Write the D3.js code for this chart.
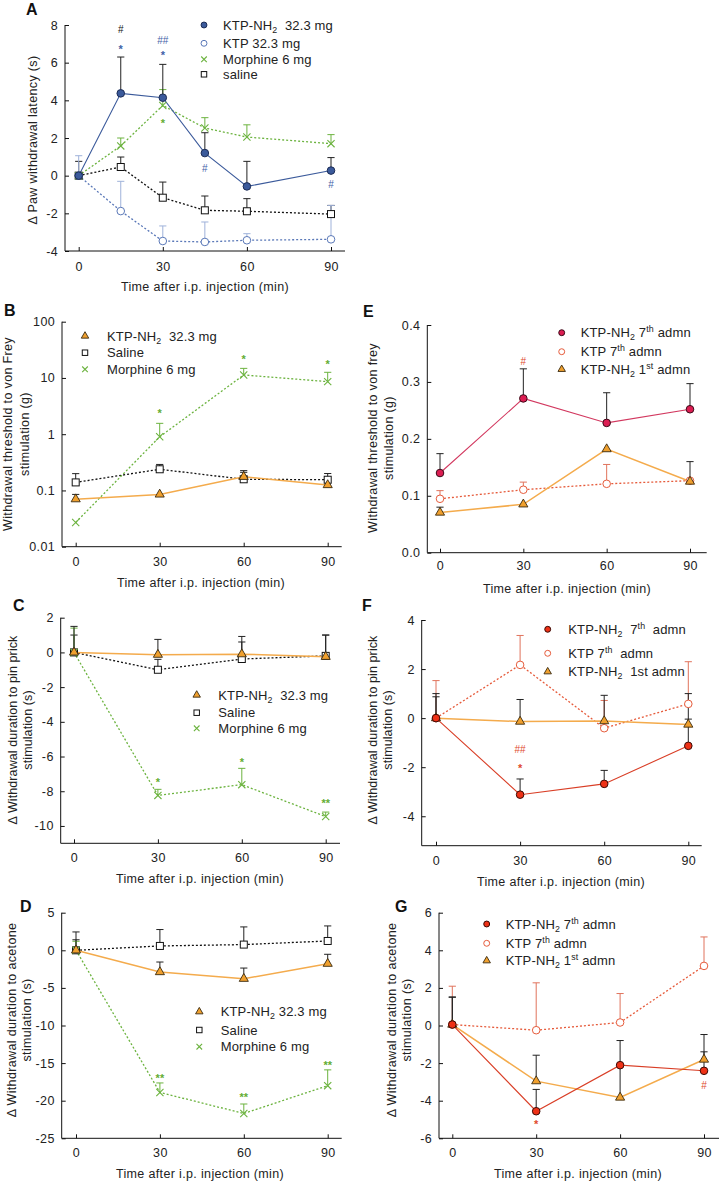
<!DOCTYPE html>
<html><head><meta charset="utf-8">
<script src="https://cdn.jsdelivr.net/npm/d3@7"></script>
<style>
body{margin:0;background:#fff}
svg{display:block}
text{font-family:Arial,Helvetica,sans-serif;fill:#222}
.pre{white-space:pre}
</style>
</head><body>
<svg id="c" width="719" height="1181"></svg>
<script>
// ---------------- DATA ----------------
const timesA = [0, 15, 30, 45, 60, 90];
const times = [0, 30, 60, 90];
const xTicks = [0, 30, 60, 90];

// Panel A: Δ paw withdrawal latency (s); "Up" = top of error bar
const aKtpNh2 = [0, 4.37, 4.14, 1.2, -0.57, 0.27];
const aKtpNh2Up = [null, 6.3, 5.91, 2.28, 0.76, 0.96];
const aKtp = [0, -1.88, -3.47, -3.52, -3.43, -3.38];
const aKtpUp = [1.06, -0.3, -2.67, -2.46, -3.08, -1.58];
const aMorph = [0, 1.58, 3.73, 2.53, 2.05, 1.7];
const aMorphUp = [null, 2.0, 4.57, 3.08, 2.7, 2.18];
const aSaline = [0, 0.46, -1.17, -1.84, -1.89, -2.04];
const aSalineUp = [0.76, 0.99, -0.34, -1.08, -1.22, -1.58];
const aTicks = [-4, -2, 0, 2, 4, 6, 8];
const aMarks = [[15, 7.77, "#", "k"], [15, 6.81, "*", "b"], [30, 7.19, "##", "b"], [30, 6.5, "*", "b"],
                [30, 2.9, "*", "g"], [45, 0.39, "#", "b"], [90, -0.46, "#", "b"]];

// Panel B: withdrawal threshold to von Frey (g), log scale
const bKtpNh2 = [0.070, 0.085, 0.175, 0.125];
const bKtpNh2Up = [0.085, null, 0.225, null];
const bSaline = [0.139, 0.238, 0.158, 0.155];
const bSalineUp = [0.199, 0.29, 0.21, 0.2];
const bMorph = [0.027, 0.90, 11.3, 8.6];
const bMorphUp = [null, 1.56, 14.8, 12.6];
const bTicks = [0.01, 0.1, 1, 10, 100];
const bMarks = [[30, 2.6, "*", "g"], [60, 23.9, "*", "g"], [90, 19.2, "*", "g"]];

// Panel C: Δ withdrawal duration to pin prick (s)
const cKtpNh2 = [0, -0.13, -0.1, -0.25];
const cKtpNh2Up = [1.5, 0.75, 0.92, 1.0];
const cSaline = [0, -1.0, -0.38, -0.2];
const cSalineUp = [1.0, -0.4, 0.6, 1.0];
const cMorph = [0, -8.24, -7.62, -9.46];
const cMorphUp = [1.4, -7.89, -6.68, -9.2];
const cTicks = [-10, -8, -6, -4, -2, 0, 2];
const cMarks = [[30, -7.33, "*", "g"], [60, -6.18, "*", "g"], [90, -8.58, "**", "g"]];

// Panel D: Δ withdrawal duration to acetone (s)
const dKtpNh2 = [0, -2.89, -3.78, -1.78];
const dKtpNh2Up = [1.4, -1.56, -2.36, -0.53];
const dSaline = [0, 0.58, 0.76, 1.24];
const dSalineUp = [2.44, 2.76, 3.11, 3.24];
const dMorph = [0, -18.9, -21.7, -18.0];
const dMorphUp = [1.2, -17.64, -20.44, -15.9];
const dTicks = [-25, -20, -15, -10, -5, 0, 5];
const dMarks = [[30, -16.7, "**", "g"], [60, -19.3, "**", "g"], [90, -15.0, "**", "g"]];

// Panel E: withdrawal threshold to von frey (g)
const eNh2_7 = [0.14, 0.271, 0.228, 0.252];
const eNh2_7Up = [0.174, 0.323, 0.281, 0.297];
const eKtp7 = [0.0947, 0.1106, 0.121, 0.1265];
const eKtp7Up = [0.109, 0.124, 0.155, null];
const eNh2_1 = [0.0706, 0.085, 0.182, 0.125];
const eNh2_1Up = [0.08, null, null, 0.16];
const eTicks = [0, 0.1, 0.2, 0.3, 0.4];
const eMarks = [[30, 0.337, "#", "r"]];

// Panel F: Δ withdrawal duration to pin prick (s)
const fNh2_7 = [0, -3.12, -2.68, -1.13];
const fNh2_7Up = [1.0, -2.48, -2.13, -0.04];
const fKtp7 = [0, 2.17, -0.41, 0.58];
const fKtp7Up = [1.53, 3.37, 0.72, 2.3];
const fNh2_1 = [0, -0.14, -0.12, -0.26];
const fNh2_1Up = [0.87, 0.76, 0.93, 1.0];
const fTicks = [-4, -2, 0, 2, 4];
const fMarks = [[30, -1.29, "##", "r"], [30, -1.97, "*", "r"]];

// Panel G: Δ withdrawal duration to acetone (s)
const gNh2_7 = [0.05, -4.56, -2.11, -2.41];
const gNh2_7Up = [1.52, -3.4, null, -1.4];
const gKtp7 = [0.05, -0.25, 0.16, 3.17];
const gKtp7Up = [2.09, 2.27, 1.7, 4.71];
const gNh2_1 = [0.05, -2.96, -3.83, -1.81];
const gNh2_1Up = [1.5, -1.58, -0.8, -0.48];
const gTicks = [-6, -4, -2, 0, 2, 4, 6];
const gMarks = [[30, -5.13, "*", "r"], [90, -3.18, "#", "r"]];

// Legend labels: segments [text, kind]
const legA = [[["KTP-NH"], ["2", "sub"], ["  32.3 mg"]], [["KTP 32.3 mg"]], [["Morphine 6 mg"]], [["saline"]]];
const legBC = [[["KTP-NH"], ["2", "sub"], ["  32.3 mg"]], [["Saline"]], [["Morphine 6 mg"]]];
const legD = [[["KTP-NH"], ["2", "sub"], [" 32.3 mg"]], [["Saline"]], [["Morphine 6 mg"]]];
const legEG = [[["KTP-NH"], ["2", "sub"], [" 7"], ["th", "sup"], [" admn"]],
               [["KTP 7"], ["th", "sup"], [" admn"]],
               [["KTP-NH"], ["2", "sub"], [" 1"], ["st", "sup"], [" admn"]]];
const legF = [[["KTP-NH"], ["2", "sub"], ["  7"], ["th", "sup"], ["  admn"]],
              [["KTP 7"], ["th", "sup"], ["  admn"]],
              [["KTP-NH"], ["2", "sub"], ["  1st admn"]]];

const xTitle = "Time after i.p. injection (min)";

// ---------------- STYLES ----------------
const COL = {
  navy: "#3b5a9b", navyEdge: "#1c2c55", lblue: "#5a78b8", lblueErr: "#9fb2da",
  green: "#6cb33f", orange: "#f0a02e", orangeLine: "#f4ab4c",
  crimson: "#dc1d52", crimsonLine: "#d2385f",
  red: "#ee3116", redLine: "#d93e26", redOpen: "#e65b3b", redErr: "#e0735c",
  black: "#111", k: "#111", b: "#3f62a8", g: "#63ad32", r: "#e04a2c"
};
const S = {
  nh2A: {m: "fcircle", fill: COL.navy, stroke: COL.navyEdge, line: COL.navy, dash: null, err: "#222"},
  ktpA: {m: "ocircle", fill: "#fff", stroke: COL.lblue, line: COL.lblue, dash: "2,2", err: COL.lblueErr},
  morph: {m: "x", fill: "none", stroke: COL.green, line: COL.green, dash: "2,2", err: COL.green},
  saline: {m: "square", fill: "#fff", stroke: "#111", line: "#111", dash: "2,2", err: "#222"},
  tri: {m: "tri", fill: COL.orange, stroke: "#3a2a10", line: COL.orangeLine, dash: null, err: "#222", lw: 1.5},
  crim: {m: "fcircle", fill: COL.crimson, stroke: "#3a0a18", line: COL.crimsonLine, dash: null, err: "#222"},
  red7: {m: "fcircle", fill: COL.red, stroke: "#3a0a05", line: COL.redLine, dash: null, err: "#222"},
  ktp7: {m: "ocircle", fill: "#fff", stroke: COL.redOpen, line: COL.redOpen, dash: "2,2", err: COL.redErr}
};

const FS = 12.5, LS = 0.35;   // axis text size / letter spacing
const LFS = 13, LLS = 0.15;   // legend text size / letter spacing

const svg = d3.select("#c");

function marker(g, kind, st, cx, cy, small) {
  const k = small ? 0.78 : 1;
  if (kind === "fcircle" || kind === "ocircle") {
    g.append("circle").attr("cx", cx).attr("cy", cy).attr("r", 3.8 * k)
      .attr("fill", st.fill).attr("stroke", st.stroke).attr("stroke-width", 1);
  } else if (kind === "square") {
    const h = 3.5 * k;
    g.append("rect").attr("x", cx - h).attr("y", cy - h).attr("width", 2 * h).attr("height", 2 * h)
      .attr("fill", "#fff").attr("stroke", st.stroke).attr("stroke-width", 1);
  } else if (kind === "tri") {
    g.append("path").attr("d", d3.symbol().type(d3.symbolTriangle).size(small ? 24 : 36)())
      .attr("transform", `translate(${cx},${cy})`)
      .attr("fill", st.fill).attr("stroke", st.stroke).attr("stroke-width", 0.9);
  } else if (kind === "x") {
    const h = 3.6 * k;
    g.append("path").attr("d", `M${cx - h},${cy - h}L${cx + h},${cy + h}M${cx - h},${cy + h}L${cx + h},${cy - h}`)
      .attr("stroke", st.stroke).attr("stroke-width", 1.1).attr("fill", "none");
  }
}

function richText(g, x, y, segs, fs) {
  const t = g.append("text").attr("x", x).attr("y", y).attr("font-size", fs).attr("class", "pre")
    .attr("letter-spacing", LLS);
  let shift = 0;
  segs.forEach(s => {
    const ts = t.append("tspan").text(s[0]);
    let target = 0;
    if (s[1] === "sub") { target = 3; ts.attr("font-size", fs * 0.68); }
    if (s[1] === "sup") { target = -5; ts.attr("font-size", fs * 0.68); }
    ts.attr("dy", target - shift);
    shift = target;
  });
  return t;
}

function panel(p) {
  const g = svg.append("g");
  const x = d3.scaleLinear().domain([0, 90]).range([p.x0, p.x90]);
  const y = (p.log ? d3.scaleLog() : d3.scaleLinear()).domain(p.yDom).range(p.yRange);
  const yTop = y(p.yDom[1]);
  const yBot = p.axBot;

  // axes
  const ya = d3.axisLeft(y).tickValues(p.yTicks).tickSize(-4).tickPadding(7).tickFormat(p.fmt || (d => String(d)));
  const yg = g.append("g").attr("transform", `translate(${p.axL},0)`).call(ya);
  const xa = d3.axisBottom(x).tickValues(xTicks).tickSize(-4).tickPadding(p.xPad || 10).tickFormat(d => String(d));
  const xg = g.append("g").attr("transform", `translate(0,${yBot})`).call(xa);
  [yg, xg].forEach(a => {
    a.select(".domain").remove();
    a.selectAll("text").attr("font-size", FS).attr("letter-spacing", LS)
      .attr("font-family", "Arial,Helvetica,sans-serif").attr("fill", "#222");
    a.selectAll("line").attr("stroke", "#111");
  });
  g.append("line").attr("x1", p.axL).attr("x2", p.axL).attr("y1", yTop).attr("y2", yBot).attr("stroke", "#111");
  g.append("line").attr("x1", p.axL).attr("x2", p.axR).attr("y1", yBot).attr("y2", yBot).attr("stroke", "#111");

  // titles
  g.append("text").attr("x", p.xLabX).attr("y", yBot + 40).attr("text-anchor", "middle")
    .attr("font-size", FS).attr("letter-spacing", LS).text(xTitle);
  p.yLab.forEach((s, i) => {
    g.append("text").attr("transform", `translate(${p.yLabX[i]},${p.yLabY}) rotate(-90)`)
      .attr("text-anchor", "middle").attr("dominant-baseline", "central")
      .attr("font-size", FS).attr("letter-spacing", p.yLS === undefined ? LS : p.yLS).text(s);
  });
  g.append("text").attr("x", p.letter[0]).attr("y", p.letter[1]).attr("font-size", 16).attr("font-weight", "bold").style("fill", "#111").text(p.id);

  const t = p.t || times;
  // error bars
  p.series.forEach(s => {
    s.up.forEach((u, i) => {
      if (u === null) return;
      const cx = x(t[i]);
      g.append("line").attr("x1", cx).attr("x2", cx).attr("y1", y(s.v[i])).attr("y2", y(u)).attr("stroke", s.st.err).attr("stroke-width", 1);
      g.append("line").attr("x1", cx - 3.6).attr("x2", cx + 3.6).attr("y1", y(u)).attr("y2", y(u)).attr("stroke", s.st.err).attr("stroke-width", 1);
    });
  });
  // lines
  p.series.forEach(s => {
    g.append("path").datum(s.v.map((v, i) => [t[i], v]))
      .attr("d", d3.line().x(d => x(d[0])).y(d => y(d[1])))
      .attr("fill", "none").attr("stroke", s.st.line).attr("stroke-width", s.st.lw || (s.st.dash ? 1.3 : 1.1))
      .attr("stroke-dasharray", s.st.dash);
  });
  // markers
  p.series.forEach(s => {
    s.v.forEach((v, i) => marker(g, s.st.m, s.st, x(t[i]), y(v), false));
  });
  // significance marks
  p.marks.forEach(m => {
    const star = m[2].indexOf("*") >= 0;
    g.append("text").attr("x", x(m[0])).attr("y", y(m[1]) + (star ? 6 : 3.7))
      .attr("text-anchor", "middle").attr("font-size", star ? 11 : 10)
      .attr("font-weight", star ? "bold" : "normal")
      .style("fill", COL[m[3]]).text(m[2]);
  });
  // legend
  p.legend.rows.forEach((ry, i) => {
    marker(g, p.series[p.legend.order[i]].st.m, p.series[p.legend.order[i]].st, p.legend.mx, ry, true);
    richText(g, p.legend.tx, ry + 4.5, p.legend.labels[i], LFS);
  });
}

// ---------------- PANELS ----------------
panel({
  id: "A", letter: [26, 15], t: timesA,
  x0: 78.7, x90: 331, axL: 65, axR: 345, yDom: [-4, 8], yRange: [251, 25], axBot: 251, yTicks: aTicks, xPad: 11.5,
  yLab: ["\u0394 Paw withdrawal latency (s)"], yLabX: [33], yLabY: 140, xLabX: 205,
  series: [
    {v: aSaline, up: aSalineUp, st: S.saline},
    {v: aKtp, up: aKtpUp, st: S.ktpA},
    {v: aMorph, up: aMorphUp, st: S.morph},
    {v: aKtpNh2, up: aKtpNh2Up, st: S.nh2A}
  ],
  marks: aMarks,
  legend: {mx: 204, tx: 223, rows: [25, 43.3, 59.3, 74.3], order: [3, 1, 2, 0], labels: legA}
});

panel({
  id: "B", letter: [4, 316], log: true,
  x0: 75.7, x90: 327.7, axL: 62, axR: 341.7, yDom: [0.01, 100], yRange: [546.7, 321.7], axBot: 546.7, yTicks: bTicks,
  yLab: ["Withdrawal threshold to von Frey", "stimulation (g)"], yLabX: [8, 25], yLabY: 434, xLabX: 201,
  series: [
    {v: bSaline, up: bSalineUp, st: S.saline},
    {v: bMorph, up: bMorphUp, st: S.morph},
    {v: bKtpNh2, up: bKtpNh2Up, st: S.tri}
  ],
  marks: bMarks,
  legend: {mx: 85, tx: 107, rows: [336, 352.7, 369.3], order: [2, 0, 1], labels: legBC}
});

panel({
  id: "C", letter: [13, 611],
  x0: 74, x90: 325.7, axL: 60.7, axR: 340, yDom: [-11, 2], yRange: [843.3, 617.7], axBot: 843.3, yTicks: cTicks,
  yLab: ["\u0394 Withdrawal duration to pin prick", "stimulation (s)"], yLabX: [13, 28], yLabY: 730, xLabX: 200, yLS: 0.1,
  series: [
    {v: cSaline, up: cSalineUp, st: S.saline},
    {v: cMorph, up: cMorphUp, st: S.morph},
    {v: cKtpNh2, up: cKtpNh2Up, st: S.tri}
  ],
  marks: cMarks,
  legend: {mx: 196.7, tx: 218.3, rows: [695, 712.7, 728.3], order: [2, 0, 1], labels: legBC}
});

panel({
  id: "D", letter: [20, 912],
  x0: 76, x90: 327.7, axL: 61.7, axR: 341.7, yDom: [-25, 5], yRange: [1138.3, 912.7], axBot: 1138.3, yTicks: dTicks,
  yLab: ["\u0394 Withdrawal duration to acetone", "stimulation (s)"], yLabX: [12, 27], yLabY: 1020, xLabX: 200,
  series: [
    {v: dSaline, up: dSalineUp, st: S.saline},
    {v: dMorph, up: dMorphUp, st: S.morph},
    {v: dKtpNh2, up: dKtpNh2Up, st: S.tri}
  ],
  marks: dMarks,
  legend: {mx: 199.3, tx: 220.7, rows: [1011.7, 1030, 1046.7], order: [2, 0, 1], labels: legD}
});

panel({
  id: "E", letter: [363, 317], fmt: d3.format(".1f"),
  x0: 440, x90: 690, axL: 427.3, axR: 706.7, yDom: [0, 0.4], yRange: [552.7, 325], axBot: 552.7, yTicks: eTicks, xPad: 8,
  yLab: ["Withdrawal threshold to von frey", "stimulation (g)"], yLabX: [373, 389], yLabY: 438, xLabX: 567,
  series: [
    {v: eKtp7, up: eKtp7Up, st: S.ktp7},
    {v: eNh2_1, up: eNh2_1Up, st: S.tri},
    {v: eNh2_7, up: eNh2_7Up, st: S.crim}
  ],
  marks: eMarks,
  legend: {mx: 561.7, tx: 580.7, rows: [332.7, 351.7, 369.3], order: [2, 0, 1], labels: legEG}
});

panel({
  id: "F", letter: [362, 611],
  x0: 436, x90: 688.3, axL: 421.7, axR: 701.7, yDom: [-5.2, 4], yRange: [845.7, 620], axBot: 845.7, yTicks: fTicks,
  yLab: ["\u0394 Withdrawal duration to pin prick", "stimulation (s)"], yLabX: [373, 388], yLabY: 730, xLabX: 561, yLS: 0.1,
  series: [
    {v: fKtp7, up: fKtp7Up, st: S.ktp7},
    {v: fNh2_1, up: fNh2_1Up, st: S.tri},
    {v: fNh2_7, up: fNh2_7Up, st: S.red7}
  ],
  marks: fMarks,
  legend: {mx: 547.7, tx: 568.3, rows: [629.3, 653.3, 671.7], order: [2, 0, 1], labels: legF}
});

panel({
  id: "G", letter: [395, 912],
  x0: 452.3, x90: 704, axL: 439, axR: 719, yDom: [-6, 6], yRange: [1138.3, 912.7], axBot: 1138.3, yTicks: gTicks,
  yLab: ["\u0394 Withdrawal duration to acetone", "stimulation (s)"], yLabX: [392, 407], yLabY: 1020, xLabX: 578,
  series: [
    {v: gKtp7, up: gKtp7Up, st: S.ktp7},
    {v: gNh2_1, up: gNh2_1Up, st: S.tri},
    {v: gNh2_7, up: gNh2_7Up, st: S.red7}
  ],
  marks: gMarks,
  legend: {mx: 486.7, tx: 505.7, rows: [924, 943.3, 960.7], order: [2, 0, 1], labels: legEG}
});
</script>
</body></html>
